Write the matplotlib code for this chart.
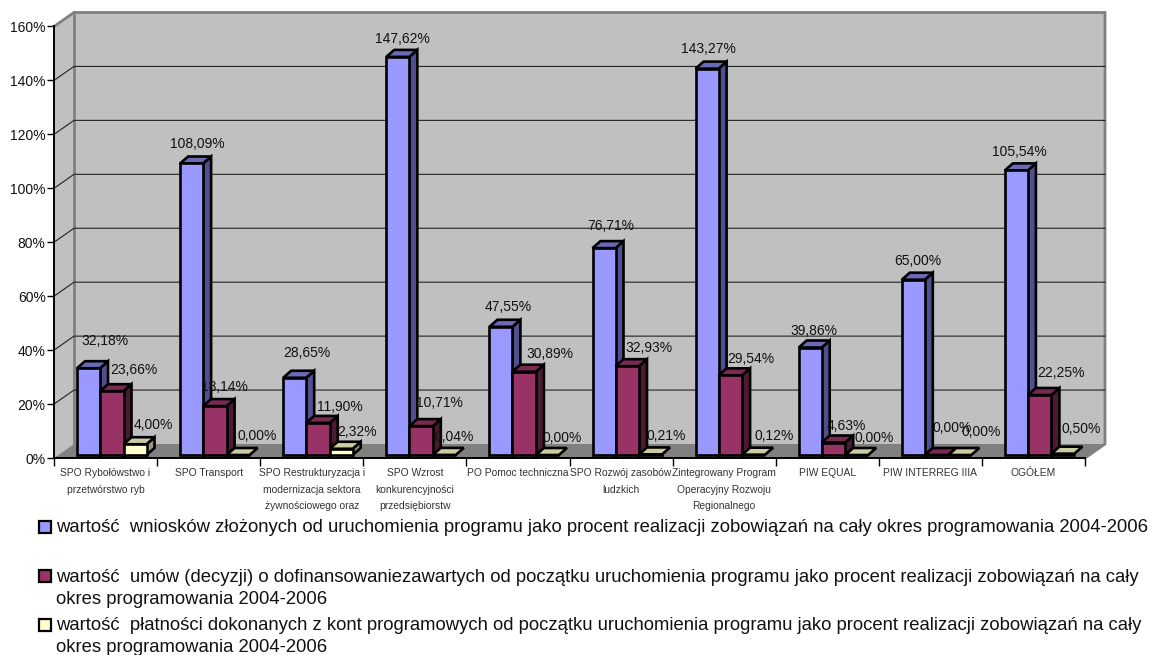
import numpy as np
import matplotlib
matplotlib.use('Agg')
import matplotlib.pyplot as plt
from matplotlib.patches import Polygon, Rectangle

categories = [
    'SPO Rybołówstwo i\nprzetwórstwo ryb',
    'SPO Transport',
    'SPO Restrukturyzacja i\nmodernizacja sektora\nżywnościowego oraz',
    'SPO Wzrost\nkonkurencyjności\nprzedsiębiorstw',
    'PO Pomoc techniczna',
    'SPO Rozwój zasobów\nludzkich',
    'Zintegrowany Program\nOperacyjny Rozwoju\nRegionalnego',
    'PIW EQUAL',
    'PIW INTERREG IIIA',
    'OGÓŁEM',
]
wnioski = [32.18, 108.09, 28.65, 147.62, 47.55, 76.71, 143.27, 39.86, 65.00, 105.54]
umowy = [23.66, 18.14, 11.90, 10.71, 30.89, 32.93, 29.54, 4.63, 0.00, 22.25]
platnosci = [4.00, 0.00, 2.32, 0.04, 0.00, 0.21, 0.12, 0.00, 0.00, 0.50]
y_ticks = [0, 20, 40, 60, 80, 100, 120, 140, 160]
legend_lines = [
    'wartość  wniosków złożonych od uruchomienia programu jako procent realizacji zobowiązań na cały okres programowania 2004-2006',
    'wartość  umów (decyzji) o dofinansowaniezawartych od początku uruchomienia programu jako procent realizacji zobowiązań na cały',
    'okres programowania 2004-2006',
    'wartość  płatności dokonanych z kont programowych od początku uruchomienia programu jako procent realizacji zobowiązań na cały',
    'okres programowania 2004-2006',
]

# label offsets from the top middle of each bar, in pixels
label_dx = [
    [16.5, 5.5, 12.5, 4.5, 7.5, 6.5, 1.5, 3.5, 4.5, 2.5],
    [22.5, 9.5, 21.5, 18.5, 25.5, 21.5, 20.5, 12.5, 15.5, 21.5],
    [18.5, 19.5, 15.5, 9.5, 14.5, 15.5, 20.5, 17.5, 21.5, 18.5],
]
label_dy = [
    [27, 19.5, 25, 18, 20, 22, 20, 16.5, 19, 18],
    [21, 19, 16, 23, 18, 18, 16, 16.5, 27, 22],
    [19, 19, 17, 18, 17, 18, 19, 17, 23, 25],
]

W, H = 1156, 655
LEFT, RIGHT, ZERO, TOP = 54, 1085, 458, 26.5
plt.rcParams['font.family'] = ['Liberation Sans', 'DejaVu Sans']

fig = plt.figure(figsize=(W / 100, H / 100), dpi=100)
ax = fig.add_axes([LEFT / W, (H - ZERO) / H, (RIGHT - LEFT) / W, (ZERO - TOP) / H])
ax.set_xlim(0, len(categories))
ax.set_ylim(0, 160)
ax.patch.set_visible(False)

# size of one pixel in data units
px = len(categories) / (RIGHT - LEFT)
py = 160 / (ZERO - TOP)
wall_x, wall_y = 20 * px, 14 * py
n = len(categories)


def poly(points, face, z, edge='none', lw=0):
    ax.add_patch(Polygon(points, closed=True, facecolor=face, edgecolor=edge,
                         linewidth=lw, zorder=z, clip_on=False, joinstyle='miter'))


# walls and floor
poly([(0, 0), (0, 160), (wall_x, 160 + wall_y), (wall_x, wall_y)], '#c0c0c0', 1)
poly([(wall_x, wall_y), (wall_x, 160 + wall_y), (n + wall_x, 160 + wall_y), (n + wall_x, wall_y)], '#c0c0c0', 1)
poly([(0, 0), (wall_x, wall_y), (n + wall_x, wall_y), (n, 0)], '#808080', 2)
ax.plot([0, wall_x, n + wall_x, n + wall_x, n], [160, 160 + wall_y, 160 + wall_y, wall_y, 0],
        color='#808080', lw=2, zorder=2, clip_on=False, solid_joinstyle='miter')
ax.plot([wall_x, wall_x], [wall_y, 160 + wall_y], color='#808080', lw=2, zorder=2, clip_on=False)

for t in y_ticks[1:-1]:
    ax.plot([0, wall_x, n + wall_x], [t, t + wall_y, t + wall_y], color='#222222', lw=0.8,
            zorder=2.5, clip_on=False)

# bars
series = [
    (wnioski, 23, 23, '#9999ff', '#6a6ab8', '#505090'),
    (umowy, 46, 23.5, '#993366', '#7a2952', '#4d1a33'),
    (platnosci, 69.5, 23, '#ffffcc', '#cccca3', '#99997a'),
]
bar_lift = 3 * py
depth_x, depth_y = 8 * px, 7 * py
x_idx = np.arange(n)

for s, (vals, start, width, front, top, side) in enumerate(series):
    z = 3 + s
    x0 = x_idx + start * px
    w = width * px
    ax.bar(x0, vals, width=w, bottom=bar_lift, align='edge', color=front, edgecolor='black',
           linewidth=1.9, zorder=z + 0.5, clip_on=False)
    for i, v in enumerate(vals):
        y1 = v + bar_lift
        xa, xb = x0[i], x0[i] + w
        if v > 0.6:
            poly([(xb, bar_lift), (xb + depth_x, bar_lift + depth_y), (xb + depth_x, y1 + depth_y), (xb, y1)],
                 side, z, 'black', 1.9)
        poly([(xa, y1), (xa + depth_x, y1 + depth_y), (xb + depth_x, y1 + depth_y), (xb, y1)],
             top, z, 'black', 1.9)
        ax.annotate(f'{v:.2f}%'.replace('.', ','), (xa + w / 2, y1),
                    xytext=(label_dx[s][i] * 0.72, label_dy[s][i] * 0.72), textcoords='offset points',
                    ha='center', va='center', fontsize=10, color='#111111', zorder=10, annotation_clip=False)

# axes
for name in ('top', 'right'):
    ax.spines[name].set_visible(False)
for name in ('left', 'bottom'):
    ax.spines[name].set_linewidth(1.4)
    ax.spines[name].set_zorder(8)
ax.set_yticks(y_ticks)
ax.set_yticklabels([f'{t}%' for t in y_ticks], fontsize=10, color='#111111')
ax.tick_params(axis='y', length=5, width=1, pad=1)
ax.set_xticks(np.arange(n + 1))
ax.set_xticklabels([])
ax.tick_params(axis='x', which='major', length=6, width=1)
ax.set_xticks(x_idx + 0.5, minor=True)
ax.set_xticklabels(categories, minor=True, fontsize=7.4, color='#333333', linespacing=1.8)
ax.tick_params(axis='x', which='minor', length=0, pad=7.5)

# legend
legend_y = [528, 577, 599, 626, 648]
for text, y in zip(legend_lines, legend_y):
    fig.text(56 / W, 1 - y / H, text, fontsize=13.36, ha='left', va='center', color='#111111')
for y, color in zip([527, 576, 625], [s[3] for s in series]):
    fig.add_artist(Rectangle((39 / W, 1 - (y + 6) / H), 12 / W, 12 / H, transform=fig.transFigure,
                             facecolor=color, edgecolor='black', linewidth=1.6))

fig.savefig('out.png', dpi=100, facecolor='white')
